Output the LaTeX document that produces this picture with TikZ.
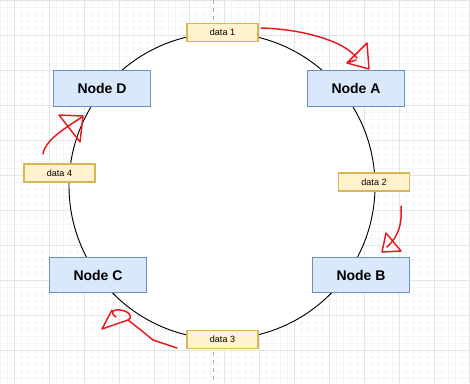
\documentclass[tikz,border=0pt]{standalone}
\usepackage{fontspec}
\setmainfont{Liberation Sans}
\definecolor{nodefill}{HTML}{DAE8FC}
\definecolor{nodeline}{HTML}{6C8EBF}
\definecolor{datafill}{HTML}{FFF2CC}
\definecolor{dataline}{HTML}{D6B656}
\definecolor{gridminor}{HTML}{F5F5F5}
\definecolor{gridmajor}{HTML}{E4E4E4}
\definecolor{pen}{HTML}{E8191F}
\tikzset{
  ringnode/.style={draw=nodeline, fill=nodefill, line width=0.8pt, minimum width=72.75pt, minimum height=26.5pt, inner sep=0pt, font=\fontsize{10.5}{12}\selectfont\bfseries},
  databox/.style={draw=dataline, fill=datafill, line width=0.8pt, minimum width=53.25pt, minimum height=13.5pt, inner sep=0pt, font=\fontsize{6.8}{8}\selectfont},
  redpen/.style={draw=pen, line width=1.1pt, line cap=round, line join=round}
}
\begin{document}
\begin{tikzpicture}[x=0.75pt,y=-0.75pt]
\useasboundingbox (0,0) rectangle (470,383);
\fill[white] (0,0) rectangle (470,383);
% grid
\foreach \i in {0,...,67} \draw[gridminor, line width=0.5pt] (7*\i,0) -- (7*\i,383);
\foreach \j in {0,...,54} \draw[gridminor, line width=0.5pt] (0,7*\j) -- (470,7*\j);
\foreach \i in {0,...,13} \draw[gridmajor, line width=0.7pt] (14+35*\i,0) -- (14+35*\i,383);
\foreach \j in {0,...,10} \draw[gridmajor, line width=0.7pt] (0,35*\j) -- (470,35*\j);
% page break line
\draw[black!30, dashed, line width=0.6pt] (213,0) -- (213,383);
% ring
\draw[black, fill=white, line width=0.7pt] (222,186) circle [radius=114.75pt];
% nodes
\node[databox] (d1) at (222.5,32.5) {data 1};
\node[ringnode] (na) at (356,88.5) {Node A};
\node[ringnode] (nd) at (102,88.5) {Node D};
\node[databox] (d4) at (59.5,173) {data 4};
\node[databox] (d2) at (374,182) {data 2};
\node[ringnode] (nc) at (98,275) {Node C};
\node[ringnode] (nb) at (361,275) {Node B};
\node[databox] (d3) at (222.5,339.5) {data 3};
% red hand-drawn arrows
\draw[redpen] (261,28) .. controls (295,29) and (320,36) .. (336,43) .. controls (345,47) and (352,52) .. (357,58);
\draw[redpen] (347,63) -- (367,43) -- (369,69) -- (347,63) -- (356,60);
\draw[redpen] (43,154) .. controls (44,146) and (52,138) .. (60,132) .. controls (68,126) and (76,121) .. (82,117);
\draw[redpen] (59,115) -- (83,116) -- (80,142) -- (59,115);
\draw[redpen] (401,206) .. controls (402,222) and (400,235) .. (387,247);
\draw[redpen] (386,233) -- (382,252) -- (401,251) -- (386,233);
\draw[redpen] (177,348) -- (165,344) -- (153,340) -- (142,331) -- (128,320);
\draw[redpen] (112,310) -- (102,329) -- (128,320) .. controls (134,316) and (128,311) .. (120,310) .. controls (112,309) and (110,313) .. (116,317);
\end{tikzpicture}
\end{document}
